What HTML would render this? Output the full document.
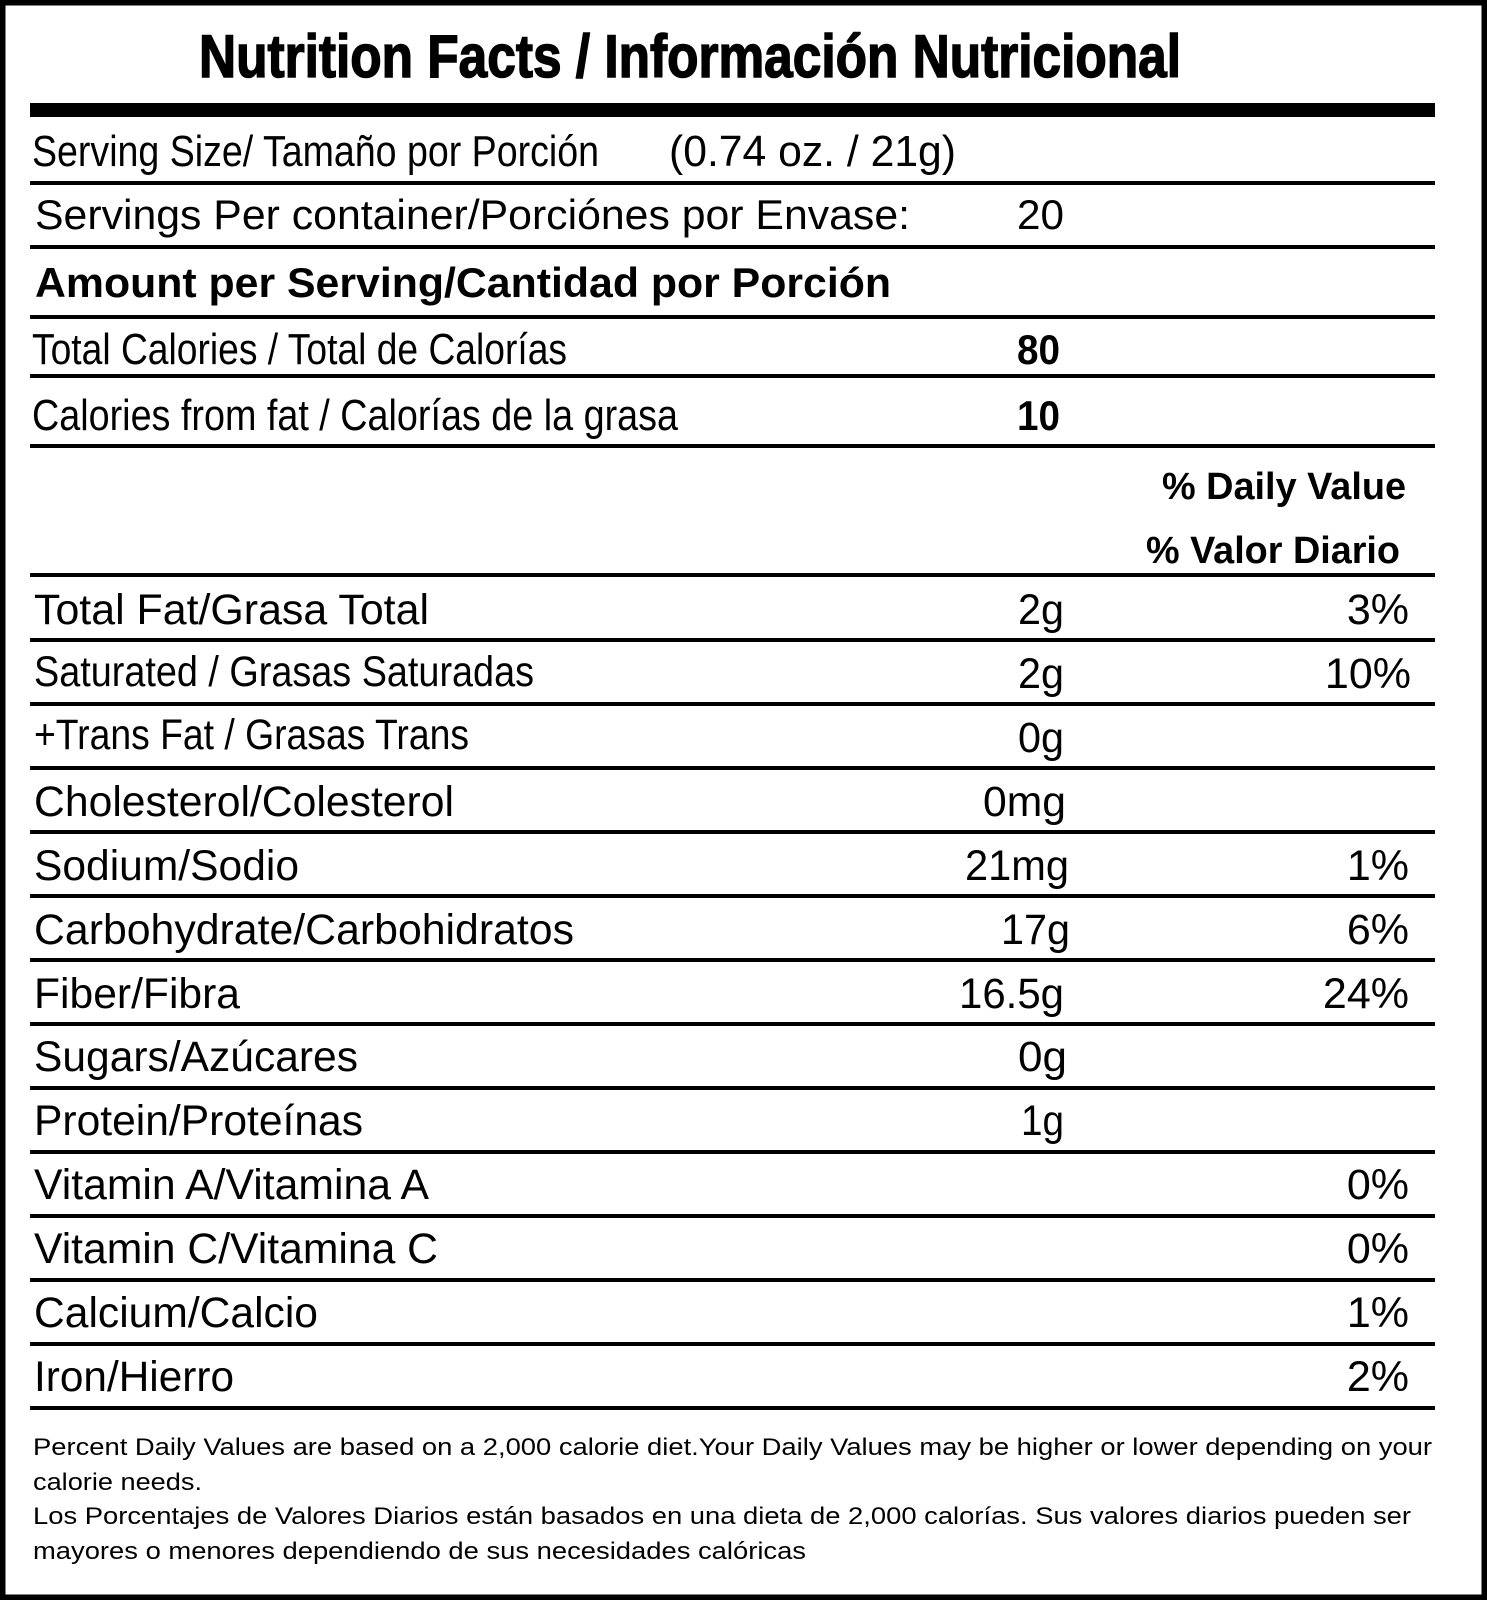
<!DOCTYPE html>
<html><head><meta charset="utf-8"><style>
html,body{margin:0;padding:0;background:#fff}
svg{display:block}
text{font-family:"Liberation Sans",Arial,sans-serif;fill:#000}
.b{font-weight:bold}
</style></head><body>
<svg width="1487" height="1600" viewBox="0 0 1487 1600" xmlns="http://www.w3.org/2000/svg">
<rect x="2.5" y="2.5" width="1482" height="1595" fill="#fff" stroke="#000" stroke-width="6"/>
<text class="b" x="199" y="77" font-size="60" stroke="#000" stroke-width="1.5" textLength="982" lengthAdjust="spacingAndGlyphs">Nutrition Facts / Información Nutricional</text>
<rect x="30" y="103" width="1405" height="14" fill="#000"/>
<g fill="#000">
<rect x="30" y="181" width="1405" height="4"/>
<rect x="30" y="245" width="1405" height="4"/>
<rect x="30" y="315" width="1405" height="4"/>
<rect x="30" y="374" width="1405" height="4"/>
<rect x="30" y="444" width="1405" height="4"/>
<rect x="30" y="573" width="1405" height="4"/>
<rect x="30" y="638" width="1405" height="4"/>
<rect x="30" y="702" width="1405" height="4"/>
<rect x="30" y="766" width="1405" height="4"/>
<rect x="30" y="830" width="1405" height="4"/>
<rect x="30" y="894" width="1405" height="4"/>
<rect x="30" y="958" width="1405" height="4"/>
<rect x="30" y="1022" width="1405" height="4"/>
<rect x="30" y="1086" width="1405" height="4"/>
<rect x="30" y="1150" width="1405" height="4"/>
<rect x="30" y="1214" width="1405" height="4"/>
<rect x="30" y="1278" width="1405" height="4"/>
<rect x="30" y="1342" width="1405" height="4"/>
<rect x="30" y="1406" width="1405" height="4"/>
</g>
<text x="32" y="166" font-size="44" textLength="567" lengthAdjust="spacingAndGlyphs">Serving Size/ Tamaño por Porción</text>
<text x="669" y="166" font-size="44" textLength="287" lengthAdjust="spacingAndGlyphs">(0.74 oz. / 21g)</text>
<text x="35" y="229" font-size="42" textLength="875" lengthAdjust="spacingAndGlyphs">Servings Per container/Porciónes por Envase:</text>
<text x="1017" y="229" font-size="42" textLength="47" lengthAdjust="spacingAndGlyphs">20</text>
<text class="b" x="35" y="297" font-size="42" textLength="856" lengthAdjust="spacingAndGlyphs">Amount per Serving/Cantidad por Porción</text>
<text x="32" y="364" font-size="44" textLength="535" lengthAdjust="spacingAndGlyphs">Total Calories / Total de Calorías</text>
<text class="b" x="1017" y="364" font-size="42" textLength="43" lengthAdjust="spacingAndGlyphs">80</text>
<text x="32" y="430" font-size="44" textLength="646" lengthAdjust="spacingAndGlyphs">Calories from fat / Calorías de la grasa</text>
<text class="b" x="1017" y="430" font-size="42" textLength="43" lengthAdjust="spacingAndGlyphs">10</text>
<text class="b" x="1162" y="499" font-size="38" textLength="244" lengthAdjust="spacingAndGlyphs">% Daily Value</text>
<text class="b" x="1146" y="563" font-size="38" textLength="254" lengthAdjust="spacingAndGlyphs">% Valor Diario</text>
<g font-size="43">
<text x="34" y="624" textLength="395" lengthAdjust="spacingAndGlyphs">Total Fat/Grasa Total</text>
<text x="1018" y="624" textLength="46" lengthAdjust="spacingAndGlyphs">2g</text>
<text x="1409" y="624" text-anchor="end">3%</text>
<text x="34" y="686" textLength="500" lengthAdjust="spacingAndGlyphs">Saturated / Grasas Saturadas</text>
<text x="1018" y="688" textLength="46" lengthAdjust="spacingAndGlyphs">2g</text>
<text x="1411" y="688" text-anchor="end">10%</text>
<text x="34" y="749" textLength="435" lengthAdjust="spacingAndGlyphs">+Trans Fat / Grasas Trans</text>
<text x="1018" y="752" textLength="46" lengthAdjust="spacingAndGlyphs">0g</text>
<text x="34" y="816" textLength="420" lengthAdjust="spacingAndGlyphs">Cholesterol/Colesterol</text>
<text x="983" y="816" textLength="83" lengthAdjust="spacingAndGlyphs">0mg</text>
<text x="34" y="880" textLength="265" lengthAdjust="spacingAndGlyphs">Sodium/Sodio</text>
<text x="965" y="880" textLength="104" lengthAdjust="spacingAndGlyphs">21mg</text>
<text x="1409" y="880" text-anchor="end">1%</text>
<text x="34" y="944" textLength="540" lengthAdjust="spacingAndGlyphs">Carbohydrate/Carbohidratos</text>
<text x="1001" y="944" textLength="69" lengthAdjust="spacingAndGlyphs">17g</text>
<text x="1409" y="944" text-anchor="end">6%</text>
<text x="34" y="1008" textLength="206" lengthAdjust="spacingAndGlyphs">Fiber/Fibra</text>
<text x="959" y="1008" textLength="105" lengthAdjust="spacingAndGlyphs">16.5g</text>
<text x="1409" y="1008" text-anchor="end">24%</text>
<text x="34" y="1071" textLength="324" lengthAdjust="spacingAndGlyphs">Sugars/Azúcares</text>
<text x="1018" y="1071" textLength="49" lengthAdjust="spacingAndGlyphs">0g</text>
<text x="34" y="1135" textLength="329" lengthAdjust="spacingAndGlyphs">Protein/Proteínas</text>
<text x="1021" y="1135" textLength="43" lengthAdjust="spacingAndGlyphs">1g</text>
<text x="34" y="1199" textLength="395" lengthAdjust="spacingAndGlyphs">Vitamin A/Vitamina A</text>
<text x="1409" y="1199" text-anchor="end">0%</text>
<text x="34" y="1263" textLength="404" lengthAdjust="spacingAndGlyphs">Vitamin C/Vitamina C</text>
<text x="1409" y="1263" text-anchor="end">0%</text>
<text x="34" y="1327" textLength="284" lengthAdjust="spacingAndGlyphs">Calcium/Calcio</text>
<text x="1409" y="1327" text-anchor="end">1%</text>
<text x="34" y="1391" textLength="200" lengthAdjust="spacingAndGlyphs">Iron/Hierro</text>
<text x="1409" y="1391" text-anchor="end">2%</text>
</g>
<g font-size="24">
<text x="33" y="1455" textLength="1399" lengthAdjust="spacingAndGlyphs">Percent Daily Values are based on a 2,000 calorie diet.Your Daily Values may be higher or lower depending on your</text>
<text x="33" y="1490" textLength="169" lengthAdjust="spacingAndGlyphs">calorie needs.</text>
<text x="33" y="1524" textLength="1378" lengthAdjust="spacingAndGlyphs">Los Porcentajes de Valores Diarios están basados en una dieta de 2,000 calorías. Sus valores diarios pueden ser</text>
<text x="33" y="1559" textLength="773" lengthAdjust="spacingAndGlyphs">mayores o menores dependiendo de sus necesidades calóricas</text>
</g>
</svg>
</body></html>
